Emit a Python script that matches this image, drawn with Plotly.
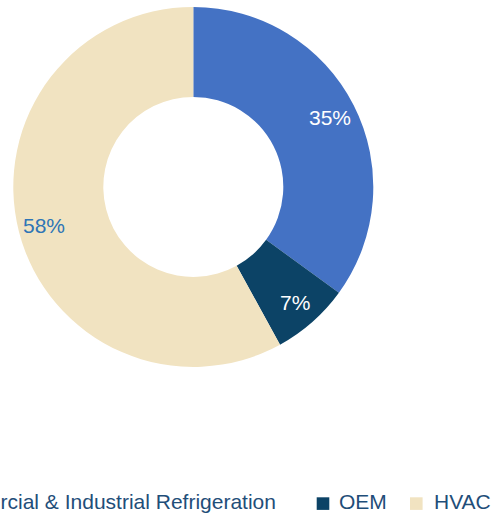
import math
import plotly.graph_objects as go

# Revenue share by segment
segments = ["Commercial & Industrial Refrigeration", "OEM", "HVAC"]
shares = [35, 7, 58]
slice_colors = ["#4472C4", "#0C4366", "#F1E3C1"]
label_colors = ["#FFFFFF", "#FFFFFF", "#2E75B6"]

W, H = 493, 515
FONT = "Liberation Sans, Arial, sans-serif"
LEGEND_COLOR = "#1F4E79"
FONT_SIZE = 21

# Donut geometry in pixels
CX, CY, R = 193.3, 186.9, 180.0
LABEL_R = 0.855 * R


def px_x(v):
    return v / W


def px_y(v):
    return 1 - v / H


fig = go.Figure(
    go.Pie(
        labels=segments,
        values=shares,
        hole=0.5,
        sort=False,
        direction="clockwise",
        rotation=0,
        marker=dict(colors=slice_colors, line=dict(width=0)),
        textinfo="none",
        domain=dict(x=[px_x(CX - R), px_x(CX + R)], y=[px_y(CY + R), px_y(CY - R)]),
        showlegend=False,
    )
)

annotations = []
shapes = []

# Percentage labels placed toward the outer rim of each slice
total = sum(shares)
start = 0.0
for v, c in zip(shares, label_colors):
    mid = (start + v / 2) / total * 2 * math.pi
    start += v
    x = CX + LABEL_R * math.sin(mid)
    y = CY - LABEL_R * math.cos(mid)
    annotations.append(dict(
        text=f"{round(v / total * 100)}%", xref="paper", yref="paper",
        x=px_x(x), y=px_y(y), xanchor="center", yanchor="middle",
        showarrow=False, font=dict(family=FONT, size=FONT_SIZE, color=c),
    ))

# Horizontal legend along the bottom edge
legend_items = [
    # (square left edge, text anchor x, text anchor side)
    (None, 277.5, "right"),
    (316.7, 336.7, "left"),
    (410.0, 431.7, "left"),
]
sq = 12.6
sq_top = 497.3
text_mid = 501.5
for name, color, (sx, tx, anchor) in zip(segments, slice_colors, legend_items):
    if sx is not None:
        shapes.append(dict(
            type="rect", xref="paper", yref="paper",
            x0=px_x(sx), x1=px_x(sx + sq),
            y0=px_y(sq_top + sq), y1=px_y(sq_top),
            fillcolor=color, line=dict(width=0),
        ))
    annotations.append(dict(
        text=name, xref="paper", yref="paper",
        x=px_x(tx), y=px_y(text_mid),
        xanchor=anchor, yanchor="middle", showarrow=False,
        font=dict(family=FONT, size=FONT_SIZE, color=LEGEND_COLOR),
    ))

fig.update_layout(
    width=W, height=H,
    margin=dict(l=0, r=0, t=0, b=0),
    paper_bgcolor="white",
    plot_bgcolor="white",
    font=dict(family=FONT),
    shapes=shapes,
    annotations=annotations,
)

fig.write_html("out.html")
